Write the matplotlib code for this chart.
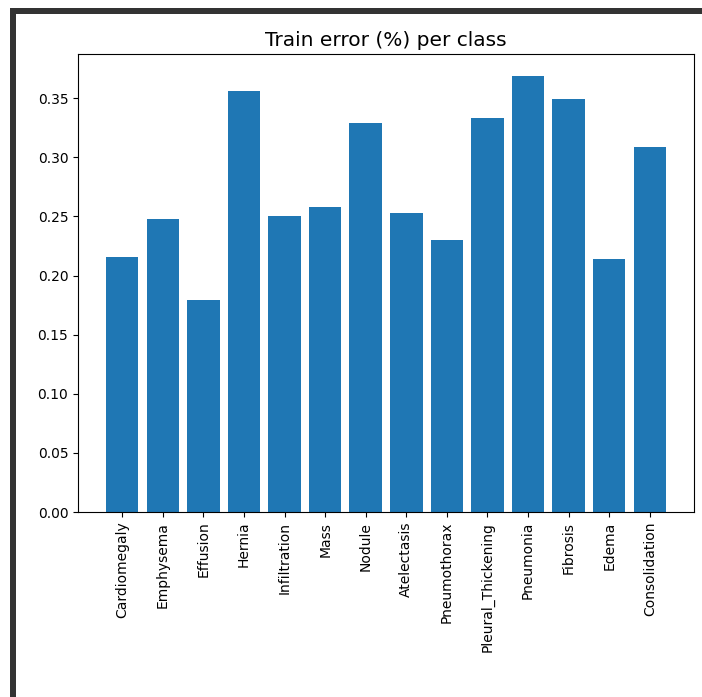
import matplotlib
matplotlib.use("Agg")
import matplotlib.pyplot as plt
from matplotlib.patches import Rectangle

classes = ["Cardiomegaly", "Emphysema", "Effusion", "Hernia", "Infiltration", "Mass",
           "Nodule", "Atelectasis", "Pneumothorax", "Pleural_Thickening", "Pneumonia",
           "Fibrosis", "Edema", "Consolidation"]
train_error = [0.216, 0.248, 0.179, 0.356, 0.250, 0.258, 0.329, 0.253, 0.230,
               0.333, 0.369, 0.349, 0.214, 0.309]

W, H = 702, 697
fig = plt.figure(figsize=(W / 100, H / 100), dpi=100)
ax = fig.add_axes([78 / W, 1 - 512 / H, (694 - 78) / W, (512 - 54) / H])

ax.bar(classes, train_error)
ax.set_title("Train error (%) per class", fontsize=14.5)
plt.setp(ax.get_xticklabels(), rotation=90)

# notebook cell frame from the screenshot
fig.add_artist(Rectangle((10 / W, 0), 6 / W, 1 - 8 / H, transform=fig.transFigure,
                         color="#333333", lw=0))
fig.add_artist(Rectangle((10 / W, 1 - 14 / H), 1, 6 / H, transform=fig.transFigure,
                         color="#333333", lw=0))

fig.savefig("out.png", dpi=100)
